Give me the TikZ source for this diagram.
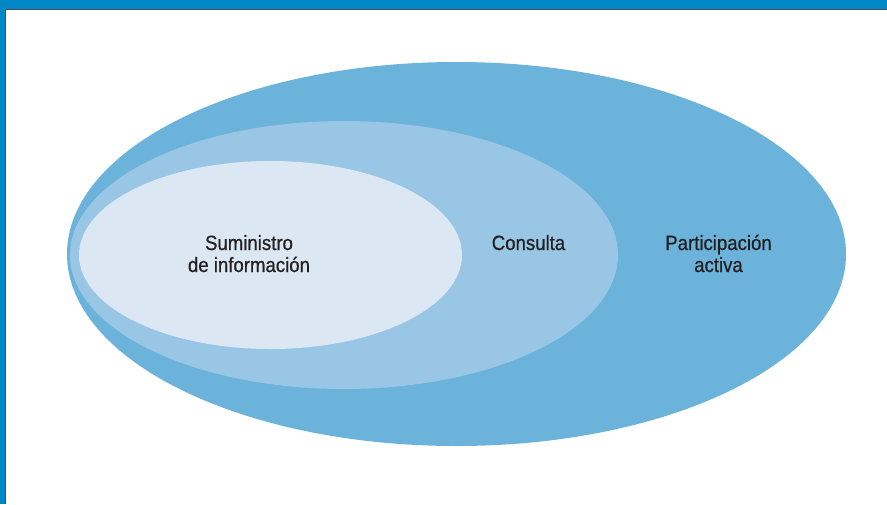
\documentclass[tikz,border=0pt]{standalone}
\usepackage{fontspec}
\setmainfont{Liberation Sans}[FakeStretch=0.9,FakeBold=0.6]
\def\px{0.75pt}
\definecolor{balken}{HTML}{0087C6}
\definecolor{kante}{HTML}{4A5058}
\definecolor{aussen}{HTML}{6CB3DB}
\definecolor{mitte}{HTML}{99C6E5}
\definecolor{innen}{HTML}{DCE7F4}
\definecolor{schrift}{HTML}{231F20}
\tikzset{
	stufe/.style={color=schrift,align=center,anchor=base,inner sep=0pt,
		font=\fontsize{15.5}{16.5}\selectfont}
}

\begin{document}
\begin{tikzpicture}[x=\px,y=-\px]
\useasboundingbox (0,0) rectangle (887,504);
\fill[white] (0,0) rectangle (887,504);
% Rahmen
\fill[balken] (0,0) rectangle (887,9);
\fill[balken] (0,0) rectangle (5,504);
\fill[kante] (5,9) rectangle (887,10.3);
\fill[kante] (5,9) rectangle (6.2,504);
% Ellipsen
\fill[aussen] (456.5,254) ellipse (389.5 and 192);
\fill[mitte] (344,255) ellipse (274 and 134);
\fill[innen] (270.5,255) ellipse (191.5 and 94);
% Beschriftung (Grundlinie der letzten Zeile)
\node[stufe] (suministro) at (249,272) {Suministro\\de información};
\node[stufe] (consulta) at (528.5,250) {Consulta};
\node[stufe] (participacion) at (718.5,272) {Participación\\activa};
\end{tikzpicture}
\end{document}
